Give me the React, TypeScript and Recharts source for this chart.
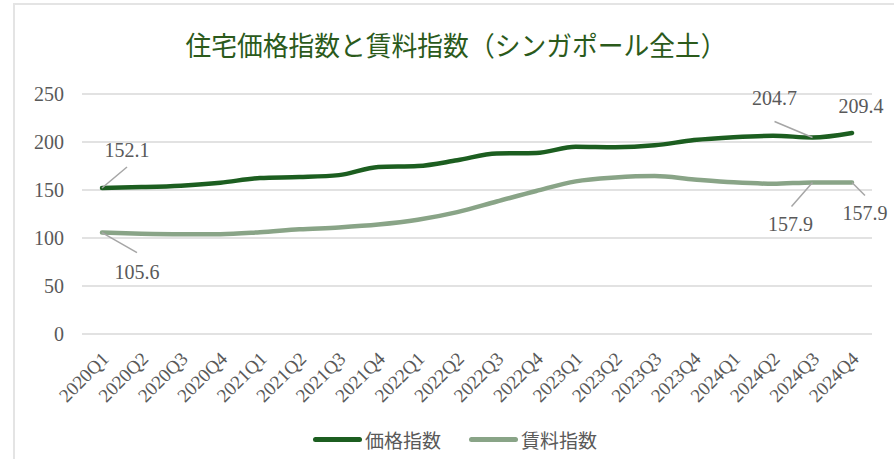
import { LineChart, Line, XAxis, YAxis, CartesianGrid, Legend, LabelList } from 'recharts';

// 四半期
const quarters = [
  '2020Q1', '2020Q2', '2020Q3', '2020Q4',
  '2021Q1', '2021Q2', '2021Q3', '2021Q4',
  '2022Q1', '2022Q2', '2022Q3', '2022Q4',
  '2023Q1', '2023Q2', '2023Q3', '2023Q4',
  '2024Q1', '2024Q2', '2024Q3', '2024Q4',
];

// 住宅価格指数
const priceIndex = [
  152.1, 153.0, 154.5, 157.5,
  162.5, 163.5, 165.5, 174.0,
  175.0, 181.0, 188.0, 188.5,
  195.0, 194.5, 196.5, 202.0,
  205.0, 206.5, 204.7, 209.4,
];

// 賃料指数
const rentIndex = [
  105.6, 104.5, 104.0, 104.0,
  106.0, 109.0, 111.0, 114.0,
  119.0, 127.0, 138.0, 149.0,
  159.0, 163.0, 164.5, 161.0,
  158.0, 156.5, 157.9, 157.9,
];

const yTicks = [0, 50, 100, 150, 200, 250];

const data = quarters.map((q, i) => ({ q, price: priceIndex[i], rent: rentIndex[i] }));

const TEXT = '#595959';
const SERIF = '"Liberation Serif", "DejaVu Serif", serif';
const SANS = '"Noto Sans CJK JP", "Noto Sans", sans-serif';

// callout placement per point index: text offset + leader end
type Callout = { tx: number; ty: number; lx?: number; ly?: number };
const priceCallouts: Record<number, Callout> = {
  0: { tx: 25, ty: -31, lx: 25, ly: -21 },
  18: { tx: -38, ty: -32, lx: -38, ly: -16 },
  19: { tx: 9, ty: -20 },
};
const rentCallouts: Record<number, Callout> = {
  0: { tx: 35, ty: 46, lx: 35, ly: 20 },
  18: { tx: -22, ty: 49, lx: -21, ly: 24 },
  19: { tx: 13, ty: 38, lx: 13, ly: 13 },
};

function makeCallout(map: Record<number, Callout>) {
  return (props: any) => {
    const { x, y, index, value } = props;
    const c = map[index];
    if (!c) return null;
    return (
      <g>
        {c.lx !== undefined && (
          <line x1={x} y1={y} x2={x + c.lx} y2={y + (c.ly ?? 0)} stroke="#a6a6a6" strokeWidth={1.5} />
        )}
        <text x={x + c.tx} y={y + c.ty} textAnchor="middle" fill={TEXT} fontSize={20} fontFamily={SERIF}>
          {Number(value).toFixed(1)}
        </text>
      </g>
    );
  };
}

function QuarterTick(props: any) {
  const { x, y, payload } = props;
  const ax = x + 8;
  const ay = y + 18;
  return (
    <text x={ax} y={ay} transform={`rotate(-45, ${ax}, ${ay})`} textAnchor="end" fill={TEXT} fontSize={19} fontFamily={SERIF}>
      {payload.value}
    </text>
  );
}

function LegendContent(props: any) {
  const { payload } = props;
  return (
    <div style={{ display: 'flex', alignItems: 'center', height: 24 }}>
      {(payload || []).map((p: any, i: number) => (
        <div key={p.value} style={{ display: 'flex', alignItems: 'center', marginLeft: i === 0 ? 0 : 28 }}>
          <div style={{ width: 49, height: 5, borderRadius: 3, background: p.color, marginRight: 3 }} />
          <span style={{ fontFamily: SANS, fontSize: 19, color: TEXT }}>{p.value}</span>
        </div>
      ))}
    </div>
  );
}

export default function App() {
  return (
    <div style={{ position: 'absolute', left: 0, top: 0, width: 894, height: 459, overflow: 'hidden', background: '#fff' }}>
      <div style={{ position: 'absolute', left: 13, top: 3, width: 900, height: 480, border: '2px solid #e4e4e4', boxSizing: 'border-box' }} />
      <svg style={{ position: 'absolute', left: 0, top: 0 }} width={894} height={80}>
        <text x={456} y={56} textAnchor="middle" fill="#2b5a1b" fontSize={27} fontFamily={SANS} textLength={541} lengthAdjust="spacingAndGlyphs">
          住宅価格指数と賃料指数（シンガポール全土）
        </text>
      </svg>
      <div style={{ position: 'absolute', left: 0, top: 0 }}>
        <LineChart width={894} height={459} data={data} margin={{ top: 94, right: 22, left: 0, bottom: 21 }}>
          <CartesianGrid horizontal vertical={false} stroke="#d9d9d9" strokeWidth={1.5} />
          <XAxis
            dataKey="q"
            interval={0}
            axisLine={false}
            tickLine={false}
            height={80}
            padding={{ left: 20, right: 20 }}
            tick={<QuarterTick />}
          />
          <YAxis
            domain={[0, 250]}
            ticks={yTicks}
            width={82}
            axisLine={false}
            tickLine={false}
            tickMargin={12}
            tick={{ fill: TEXT, fontSize: 20, fontFamily: SERIF }}
          />
          <Legend
            verticalAlign="bottom"
            content={<LegendContent />}
            wrapperStyle={{ left: 313, bottom: 8, width: 'auto' }}
          />
          <Line
            name="価格指数"
            dataKey="price"
            type="monotone"
            stroke="#1c5e20"
            strokeWidth={4.5}
            strokeLinecap="round"
            dot={false}
            isAnimationActive={false}
          >
            <LabelList dataKey="price" content={makeCallout(priceCallouts)} />
          </Line>
          <Line
            name="賃料指数"
            dataKey="rent"
            type="monotone"
            stroke="#89a487"
            strokeWidth={4.5}
            strokeLinecap="round"
            dot={false}
            isAnimationActive={false}
          >
            <LabelList dataKey="rent" content={makeCallout(rentCallouts)} />
          </Line>
        </LineChart>
      </div>
    </div>
  );
}
